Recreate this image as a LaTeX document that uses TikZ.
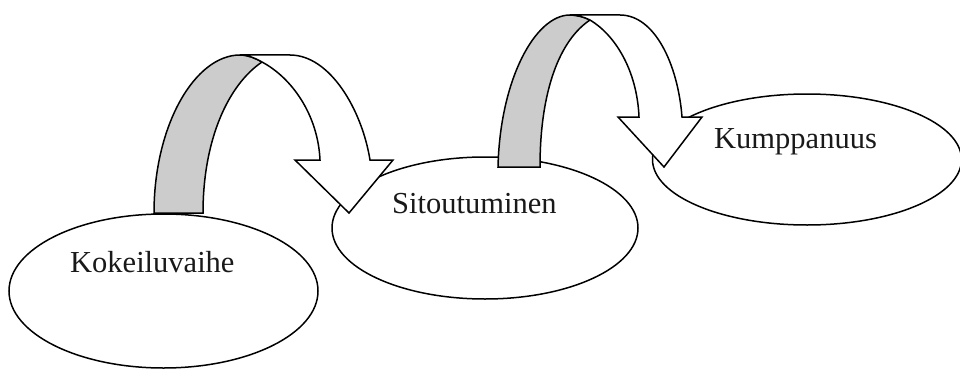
\documentclass[tikz,border=0pt]{standalone}
\usepackage{fontspec}
\setmainfont{Liberation Serif}
\usetikzlibrary{shapes.geometric}
\tikzset{
  stage/.style={ellipse, draw=black, fill=white, line width=1.5pt, inner sep=0pt, outer sep=0pt},
  stagelabel/.style={anchor=base west, inner sep=0pt, font=\fontsize{30.5}{36}\selectfont, text=black!90},
  backband/.style={draw=black, fill=black!20, line width=1.5pt, line join=miter},
  frontband/.style={draw=black, fill=white, line width=1.5pt, line join=miter},
}
\begin{document}
\begin{tikzpicture}[x=1pt, y=-1pt]
\useasboundingbox (0,0) rectangle (960,369);
\clip (0,0) rectangle (960,369);
% stages
\node[stage, minimum width=309pt, minimum height=154pt] (e1) at (163.5,291) {};
\node[stage, minimum width=306pt, minimum height=142pt] (e2) at (485,228) {};
\node[stage, minimum width=309pt, minimum height=131pt] (e3) at (807,159.5) {};
% arrow 1
\draw[backband] (154,213) .. controls (154,125) and (195,55) .. (240,55)
  .. controls (248,55) and (255,58) .. (262,62)
  .. controls (228,85) and (203,140) .. (203,213) -- cycle;
\draw[frontband] (240,55) -- (290,55) .. controls (330,55) and (362,110) .. (370,160)
  -- (393,160) -- (349,213) -- (295,160) -- (320,160)
  .. controls (318,115) and (292,78) .. (262,62)
  .. controls (255,58) and (248,55) .. (240,55) -- cycle;
% arrow 2
\draw[backband] (498,167) .. controls (500,80) and (535,15) .. (570,15)
  .. controls (577,15) and (584,17) .. (590,20)
  .. controls (560,40) and (540,90) .. (540,167) -- cycle;
\draw[frontband] (570,15) -- (620,15) .. controls (655,15) and (678,65) .. (682,117)
  -- (702,117) -- (664,167) -- (618,117) -- (639,117)
  .. controls (637,70) and (615,35) .. (590,20)
  .. controls (584,17) and (577,15) .. (570,15) -- cycle;
% labels
\node[stagelabel] (t1) at (70,272) {Kokeiluvaihe};
\node[stagelabel] (t2) at (392,213) {Sitoutuminen};
\node[stagelabel] (t3) at (714,148) {Kumppanuus};
\end{tikzpicture}
\end{document}
